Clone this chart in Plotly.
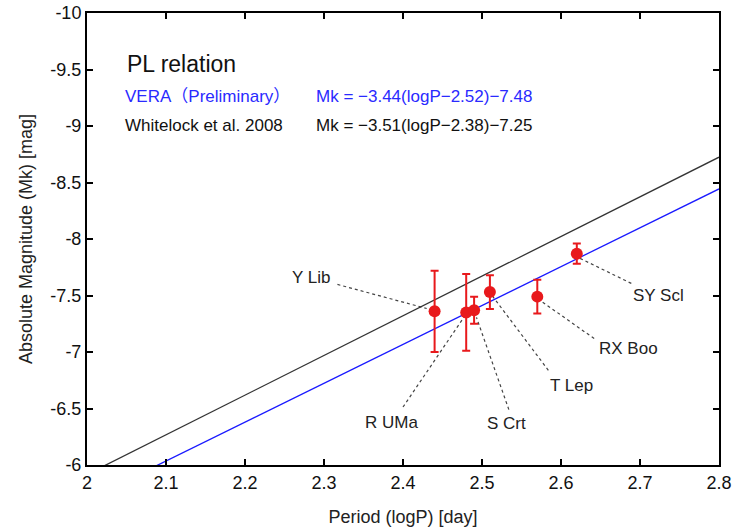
import plotly.graph_objects as go

# ---- data ----
stars = ["Y Lib", "R UMa", "S Crt", "T Lep", "RX Boo", "SY Scl"]
logP = [2.44, 2.48, 2.49, 2.51, 2.57, 2.62]
Mk = [-7.36, -7.35, -7.37, -7.53, -7.49, -7.87]
Mk_err = [0.36, 0.34, 0.12, 0.15, 0.15, 0.09]

# label positions and leader lines (data coords)
label_x = [2.283, 2.385, 2.531, 2.613, 2.686, 2.724]
label_y = [-7.663, -6.380, -6.365, -6.705, -7.031, -7.503]
lead_x0 = [2.317, 2.400, 2.534, 2.584, 2.642, 2.689]
lead_y0 = [-7.598, -6.513, -6.490, -6.838, -7.119, -7.607]
lead_x1 = [2.430, 2.478, 2.493, 2.514, 2.573, 2.624]
lead_y1 = [-7.385, -7.317, -7.306, -7.488, -7.459, -7.829]

# PL relations: Mk = a(logP - p0) + b
vera_fit = (-3.44, 2.52, -7.48)
white_fit = (-3.51, 2.38, -7.25)
line_x = [2.0, 2.8]

xticks = [2.0, 2.1, 2.2, 2.3, 2.4, 2.5, 2.6, 2.7, 2.8]
xtick_text = ["2", "2.1", "2.2", "2.3", "2.4", "2.5", "2.6", "2.7", "2.8"]
yticks = [-10, -9.5, -9, -8.5, -8, -7.5, -7, -6.5, -6]
ytick_text = ["-10", "-9.5", "-9", "-8.5", "-8", "-7.5", "-7", "-6.5", "-6"]

FONT = "Arial, Liberation Sans, Noto Sans CJK JP, sans-serif"

def fit(p, xs):
    a, p0, b = p
    return [a * (x - p0) + b for x in xs]

fig = go.Figure()

# leader lines
for i in range(len(stars)):
    fig.add_trace(go.Scatter(
        x=[lead_x0[i], lead_x1[i]], y=[lead_y0[i], lead_y1[i]],
        mode="lines", line=dict(color="#444444", width=1.2, dash="dot"),
        showlegend=False, hoverinfo="skip"))

fig.add_trace(go.Scatter(x=line_x, y=fit(white_fit, line_x), mode="lines",
                         line=dict(color="#333333", width=1.3), showlegend=False))
fig.add_trace(go.Scatter(x=line_x, y=fit(vera_fit, line_x), mode="lines",
                         line=dict(color="#1a1aff", width=1.3), showlegend=False))

fig.add_trace(go.Scatter(
    x=logP, y=Mk, mode="markers",
    marker=dict(color="#e8191c", size=12),
    error_y=dict(type="data", array=Mk_err, color="#e8191c", thickness=2, width=4),
    showlegend=False))

annotations = []
for i, s in enumerate(stars):
    annotations.append(dict(x=label_x[i], y=label_y[i], text=s, showarrow=False,
                            font=dict(family=FONT, size=17, color="#222222"),
                            xanchor="center", yanchor="middle"))

annotations += [
    dict(x=2.048, y=-9.552, text="PL relation", showarrow=False, xanchor="left",
         yanchor="middle", font=dict(family=FONT, size=23, color="#111111")),
    dict(x=2.045, y=-9.259, text="VERA（Preliminary）", showarrow=False, xanchor="left",
         yanchor="middle", font=dict(family=FONT, size=17, color="#2a2aff")),
    dict(x=2.2875, y=-9.259, text="Mk = −3.44(logP−2.52)−7.48", showarrow=False,
         xanchor="left", yanchor="middle", font=dict(family=FONT, size=17, color="#2a2aff")),
    dict(x=2.045, y=-9.002, text="Whitelock et al. 2008", showarrow=False, xanchor="left",
         yanchor="middle", font=dict(family=FONT, size=17, color="#111111")),
    dict(x=2.2875, y=-9.002, text="Mk = −3.51(logP−2.38)−7.25", showarrow=False,
         xanchor="left", yanchor="middle", font=dict(family=FONT, size=17, color="#111111")),
]

fig.update_layout(
    width=734, height=531,
    margin=dict(l=87, r=15, t=13, b=66),
    paper_bgcolor="white", plot_bgcolor="white",
    annotations=annotations,
    font=dict(family=FONT, color="#111111"),
)
fig.update_xaxes(
    range=[2, 2.8], tickvals=xticks, ticktext=xtick_text,
    ticks="inside", ticklen=6, tickwidth=1.5, tickcolor="black",
    showline=True, linecolor="black", linewidth=2, mirror="allticks",
    showgrid=False, zeroline=False, automargin=False, ticklabeloverflow="allow",
    tickfont=dict(family=FONT, size=18, color="#111111"),
    title=dict(text="Period (logP) [day]", font=dict(family=FONT, size=18, color="#222222"),
               standoff=19),
)
fig.update_yaxes(
    range=[-6, -10], tickvals=yticks, ticktext=ytick_text,
    ticks="inside", ticklen=6, tickwidth=1.5, tickcolor="black",
    showline=True, linecolor="black", linewidth=2, mirror="allticks",
    showgrid=False, zeroline=False, automargin=False, ticklabeloverflow="allow",
    tickfont=dict(family=FONT, size=18, color="#111111"),
    title=dict(text="Absolute Magnitude (Mk) [mag]",
               font=dict(family=FONT, size=18, color="#222222"), standoff=13),
)

fig.write_html("out.html")
